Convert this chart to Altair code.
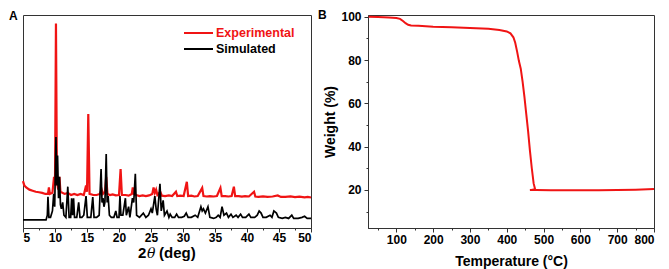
import altair as alt
import pandas as pd

# ---------------- Panel A: PXRD ----------------
exp_x = [5.0, 5.2, 5.5, 6.0, 6.5, 7.0, 7.5, 8.0, 8.5, 8.9, 9.05, 9.2, 9.6, 9.85, 10.0, 10.15, 10.3, 10.5,
         10.7, 10.85, 11.5, 12.0, 12.5, 13.0, 13.5, 14.0, 14.5, 14.85, 15.0, 15.2, 15.4, 16.0, 16.5, 17.0,
         17.3, 17.5, 17.8, 18.0, 18.2, 18.6, 19.0, 19.5, 20.0, 20.25, 20.45, 21.0, 21.5, 22.0, 22.15, 22.35,
         22.7, 23.2, 23.7, 24.2, 24.7, 25.2, 25.4, 25.6, 25.8, 26.0, 26.45, 26.7, 27.2, 27.8, 28.3, 28.9,
         29.1, 29.6, 30.1, 30.6, 30.8, 31.3, 31.8, 32.3, 33.0, 33.2, 33.7, 34.2, 34.8, 35.3, 35.85, 36.05,
         36.6, 37.1, 37.6, 37.95, 38.15, 38.7, 39.2, 39.7, 40.3, 41.1, 41.3, 41.8, 42.5, 43.2, 44.0, 44.8,
         45.3, 46.0, 46.8, 47.5, 48.2, 49.0, 49.5, 50.0]
exp_y = [22, 20, 19, 18, 17.5, 17, 16.8, 16.5, 16, 16, 19, 16, 16.5, 24, 20, 96, 22, 18,
         24, 17, 16, 16.5, 15.5, 16, 15.5, 16, 15.5, 20, 17, 53.5, 16, 15.5, 15.5, 16,
         18, 16, 17, 24, 16, 15.5, 15.8, 15.3, 15.5, 27.7, 15.5, 15.5, 15.2, 16, 19, 16,
         15.5, 15, 15.3, 15, 15.3, 16, 19, 16.5, 18, 15.5, 17, 15.2, 15, 15.3, 15, 17,
         15, 15.2, 15, 21.7, 15, 15.2, 14.8, 15, 18.8, 15, 14.8, 15, 14.8, 15, 18.8, 15,
         15, 14.8, 15, 19.4, 15, 15, 14.7, 15, 14.8, 17, 14.8, 14.6, 14.8, 14.6, 14.8, 15.3,
         14.6, 14.6, 14.8, 14.5, 14.7, 14.4, 14.6, 14.3]

sim_x = [5.0, 8.6, 8.8, 8.9, 9.05, 9.3, 9.6, 9.8, 9.95, 10.15, 10.3, 10.4, 10.55, 10.7, 10.85, 11.0, 11.2,
         11.4, 11.7, 12.0, 12.2, 12.45, 12.6, 12.75, 12.9, 13.05, 13.4, 13.7, 13.9, 14.2, 14.5, 14.85, 15.05,
         15.3, 15.6, 15.9, 16.1, 16.5, 16.9, 17.2, 17.35, 17.5, 17.65, 17.8, 18.0, 18.15, 18.3, 18.5, 18.8,
         19.2, 19.5, 19.7, 20.0, 20.15, 20.3, 20.6, 21.0, 21.15, 21.5, 21.7, 22.1, 22.3, 22.55, 22.75, 23.2,
         23.8, 24.2, 24.6, 25.0, 25.2, 25.4, 25.6, 25.8, 26.0, 26.4, 26.6, 26.9, 27.1, 27.5, 27.8, 28.0,
         28.3, 28.7, 29.0, 29.3, 29.8, 30.2, 30.5, 30.8, 31.3, 31.9, 32.3, 32.8, 33.0, 33.2, 33.5, 33.9,
         34.2, 34.8, 35.2, 35.5, 35.8, 36.1, 36.4, 36.8, 37.1, 37.5, 37.8, 38.3, 38.6, 39.0, 39.3, 39.8,
         40.3, 40.6, 41.2, 41.6, 41.9, 42.2, 42.5, 43.0, 43.6, 43.9, 44.2, 44.6, 44.9, 45.5, 46.0, 46.5,
         47.0, 47.3, 48.0, 48.6, 49.0, 49.4, 50.0]
sim_y = [3.8, 3.8, 6, 14.7, 5, 5, 8, 16, 10, 42.7, 20, 34, 14, 24, 11, 9, 12,
         6, 5, 19.4, 5, 5, 14, 6, 14, 5, 5, 12, 5, 5, 6, 15, 5,
         5, 5, 14.5, 5, 5, 6, 27.7, 12, 14, 10, 12, 34.7, 12, 15, 6, 5,
         5, 8, 5, 5, 15, 6, 6, 14, 6, 10, 5, 14, 12, 25.4, 6, 5,
         7, 5, 6, 9, 7, 11, 15, 9, 6, 20.7, 8, 13, 6, 8, 5, 6.5,
         5, 5, 6.5, 5, 5, 5.5, 7, 5, 5, 6, 5, 10, 8, 9, 7, 10,
         5, 4.5, 5, 6, 5, 10, 6, 7, 5, 6.5, 5, 6, 5, 6.5, 5, 5,
         6.5, 5, 5, 6, 8, 7, 5, 5, 6, 5, 8, 7, 5, 4.5, 5, 4.5,
         6, 4.5, 4.5, 5, 5.5, 4.5, 4.5]

xrd_major = [5, 10, 15, 20, 25, 30, 35, 40, 45, 50]
xrd_minor = [7.5, 12.5, 17.5, 22.5, 27.5, 32.5, 37.5, 42.5, 47.5]
legend_labels = ["Experimental", "Simulated"]
legend_colors = ["#f01414", "black"]

# ---------------- Panel B: TGA ----------------
tga_t = [25, 50, 80, 100, 110, 118, 125, 132, 140, 160, 200, 250, 300, 350, 380, 400, 410, 418, 423,
         428, 433, 438, 443, 448, 453, 458, 463, 468, 473, 477, 463, 480, 520, 600, 650, 700, 750, 800]
tga_w = [100, 99.9, 99.7, 99.4, 99.0, 98.0, 97.0, 96.3, 96.0, 95.8, 95.4, 95.1, 94.8, 94.4, 93.9, 93.2,
         92.3, 90.5, 88, 84, 79.5, 76, 70, 63, 55, 47, 38, 30, 23, 20.3, 19.9, 19.9, 19.8, 19.8, 19.8,
         19.9, 20.1, 20.4]
tga_x_major = [100, 200, 300, 400, 500, 600, 700, 800]
tga_x_minor = [50, 150, 250, 350, 450, 550, 650, 750]
tga_y_major = [20, 40, 60, 80, 100]
tga_y_minor = [10, 30, 50, 70, 90]

FONT = "Liberation Sans"
RED = "#f01414"

WA, HA = 288, 213
WB, HB = 286, 213

df_exp = pd.DataFrame({"x": exp_x, "y": exp_y, "i": list(range(len(exp_x)))})
df_sim = pd.DataFrame({"x": sim_x, "y": sim_y, "i": list(range(len(sim_x)))})
one = pd.DataFrame({"a": [0]})

xsA = alt.Scale(domain=[5, 50], nice=False, zero=False)
ysA = alt.Scale(domain=[0, 100], nice=False, zero=False)

axA = alt.Axis(values=xrd_major, orient="bottom", title=None, tickSize=4, labelPadding=0,
               labelFontSize=12, grid=False)
axA_minor = alt.Axis(values=xrd_minor, orient="bottom", title=None, tickSize=2, labels=False,
                     domain=False, grid=False)

red = alt.Chart(df_exp).mark_line(color=RED, strokeWidth=2.2).encode(
    x=alt.X("x:Q", scale=xsA, axis=axA),
    y=alt.Y("y:Q", scale=ysA, axis=None),
    order="i:Q",
)
black = alt.Chart(df_sim).mark_line(color="black", strokeWidth=1.7).encode(
    x=alt.X("x:Q", scale=xsA, axis=None),
    y=alt.Y("y:Q", scale=ysA, axis=None),
    order="i:Q",
)
minorA = alt.Chart(pd.DataFrame({"x": xrd_minor})).mark_point(opacity=0).encode(
    x=alt.X("x:Q", scale=xsA, axis=axA_minor)
)

leg_rule1 = alt.Chart(one).mark_rule(color=legend_colors[0], strokeWidth=2).encode(
    x=alt.value(161), x2=alt.value(190), y=alt.value(18))
leg_text1 = alt.Chart(one).mark_text(text=legend_labels[0], color=legend_colors[0], font=FONT,
                                      fontWeight="bold", fontSize=12.5, align="left",
                                      baseline="middle").encode(x=alt.value(193), y=alt.value(18))
leg_rule2 = alt.Chart(one).mark_rule(color=legend_colors[1], strokeWidth=2).encode(
    x=alt.value(161), x2=alt.value(190), y=alt.value(34))
leg_text2 = alt.Chart(one).mark_text(text=legend_labels[1], color=legend_colors[1], font=FONT,
                                      fontWeight="bold", fontSize=12.5, align="left",
                                      baseline="middle").encode(x=alt.value(193), y=alt.value(34))

labA = alt.Chart(one).mark_text(text="A", font=FONT, fontWeight="bold", fontSize=12, align="left",
                                baseline="top").encode(x=alt.value(-14), y=alt.value(-4))

t2 = alt.Chart(one).mark_text(text="2", font=FONT, fontWeight="bold", fontSize=15, align="left",
                              baseline="alphabetic").encode(x=alt.value(115), y=alt.value(HA + 30))
tth = alt.Chart(one).mark_text(text="θ", font="DejaVu Serif", fontStyle="italic", fontSize=14,
                               align="left", baseline="alphabetic").encode(x=alt.value(124), y=alt.value(HA + 30))
tdeg = alt.Chart(one).mark_text(text="(deg)", font=FONT, fontWeight="bold", fontSize=15, align="left",
                                baseline="alphabetic").encode(x=alt.value(136), y=alt.value(HA + 30))

chartA = alt.layer(red, black, minorA, leg_rule1, leg_text1, leg_rule2, leg_text2, labA, t2, tth, tdeg
                   ).resolve_axis(x="independent").properties(width=WA, height=HA)

# Panel B
df_tga = pd.DataFrame({"t": tga_t, "w": tga_w, "i": list(range(len(tga_t)))})
xsB = alt.Scale(domain=[23, 800], nice=False, zero=False)
ysB = alt.Scale(domain=[2.4, 100.8], nice=False, zero=False)

tga = alt.Chart(df_tga).mark_line(color=RED, strokeWidth=2).encode(
    x=alt.X("t:Q", scale=xsB, axis=alt.Axis(values=tga_x_major, orient="bottom", title="Temperature (°C)",
                                            tickSize=4, labelPadding=2, labelFontSize=12, titleFontSize=14,
                                            titlePadding=9, grid=False)),
    y=alt.Y("w:Q", scale=ysB, axis=alt.Axis(values=tga_y_major, orient="left", title="Weight (%)",
                                            tickSize=4, labelPadding=3, labelFontSize=12, titleFontSize=14,
                                            titlePadding=3, grid=False)),
    order="i:Q",
)
minorBx = alt.Chart(pd.DataFrame({"t": tga_x_minor})).mark_point(opacity=0).encode(
    x=alt.X("t:Q", scale=xsB, axis=alt.Axis(values=tga_x_minor, orient="bottom", title=None, tickSize=2,
                                            labels=False, domain=False, grid=False))
)
minorBy = alt.Chart(pd.DataFrame({"w": tga_y_minor})).mark_point(opacity=0).encode(
    y=alt.Y("w:Q", scale=ysB, axis=alt.Axis(values=tga_y_minor, orient="left", title=None, tickSize=2,
                                            labels=False, domain=False, grid=False))
)
labB = alt.Chart(one).mark_text(text="B", font=FONT, fontWeight="bold", fontSize=12, align="left",
                                baseline="top").encode(x=alt.value(-50), y=alt.value(-5))

chartB = alt.layer(tga, minorBx, minorBy, labB).resolve_axis(x="independent", y="independent"
                                                              ).properties(width=WB, height=HB)

chart = alt.hconcat(chartA, chartB, spacing=1).properties(
    padding={"left": 0, "top": 0, "right": 0, "bottom": 0}
).configure_view(stroke="#333", strokeWidth=1).configure_axis(
    labelFont=FONT, titleFont=FONT, labelFontWeight="bold", titleFontWeight="bold",
    labelColor="black", titleColor="black", tickColor="#333", domainColor="#333"
)

chart.save("out.html", embed_options={"renderer": "svg", "actions": False})
